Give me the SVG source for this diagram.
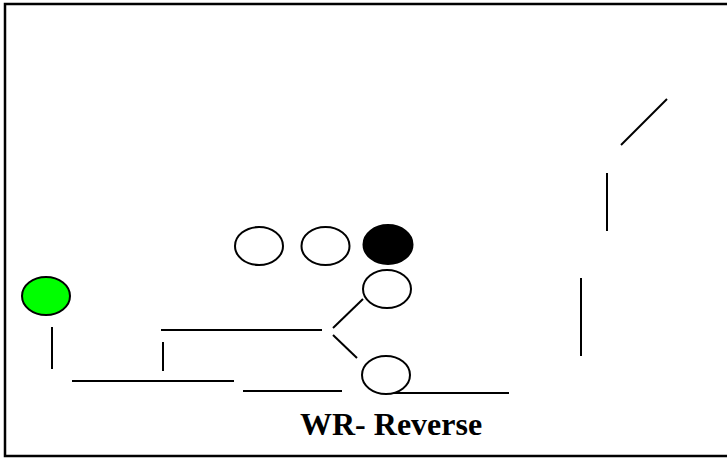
<svg xmlns="http://www.w3.org/2000/svg" width="727" height="458" viewBox="0 0 727 458">
  <style>
    .frame { fill: #ffffff; stroke: #000000; stroke-width: 2.5; }
    .player { fill: #ffffff; stroke: #000000; stroke-width: 2; }
    .ball { fill: #000000; stroke: #000000; stroke-width: 2; }
    .start { fill: #00ff00; stroke: #000000; stroke-width: 2; }
    .route { stroke: #000000; stroke-width: 2; fill: none; }
    .title { font-family: "Liberation Serif", "Times New Roman", serif; font-weight: bold; font-size: 32px; fill: #000000; }
  </style>
  <rect class="frame" x="5" y="4" width="725" height="452"/>

  <g id="connectors">
    <line class="route" x1="52" y1="327" x2="52" y2="369"/>
    <line class="route" x1="72" y1="381" x2="234" y2="381"/>
    <line class="route" x1="163" y1="342" x2="163" y2="371"/>
    <line class="route" x1="161" y1="330" x2="322" y2="330"/>
    <line class="route" x1="333" y1="328" x2="363" y2="299"/>
    <line class="route" x1="333" y1="335" x2="357" y2="358"/>
    <line class="route" x1="243" y1="391" x2="342" y2="391"/>
    <line class="route" x1="390" y1="393" x2="509" y2="393"/>
    <line class="route" x1="581" y1="278" x2="581" y2="356"/>
    <line class="route" x1="607" y1="173" x2="607" y2="231"/>
    <line class="route" x1="621" y1="145" x2="667" y2="99"/>
  </g>

  <g id="player-green">
    <ellipse class="start" cx="46" cy="296" rx="24" ry="19"/>
  </g>
  <g id="player-1">
    <ellipse class="player" cx="259" cy="246" rx="24" ry="19"/>
  </g>
  <g id="player-2">
    <ellipse class="player" cx="325.5" cy="246" rx="24" ry="19"/>
  </g>
  <g id="ball">
    <ellipse class="ball" cx="388" cy="244.5" rx="24.5" ry="19.5"/>
  </g>
  <g id="player-3">
    <ellipse class="player" cx="387" cy="289" rx="24" ry="19"/>
  </g>
  <g id="player-4">
    <ellipse class="player" cx="386" cy="375" rx="24" ry="19"/>
  </g>

  <g id="caption">
    <text class="title" x="300" y="435">WR- Reverse</text>
  </g>
</svg>
